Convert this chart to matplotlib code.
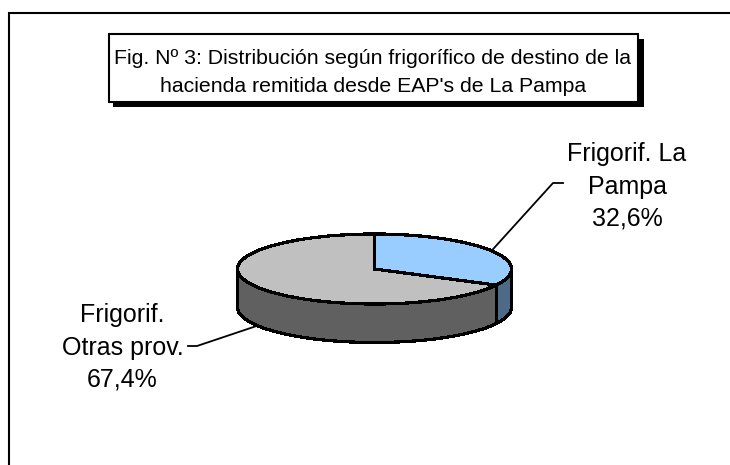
import numpy as np
import matplotlib
matplotlib.use("Agg")
import matplotlib.pyplot as plt
from matplotlib.patches import Rectangle

plt.rcParams['font.family'] = ['Liberation Sans', 'DejaVu Sans']

title_lines = ["Fig. Nº 3: Distribución según frigorífico de destino de la",
               "hacienda remitida desde EAP's de La Pampa"]
labels = ["Frigorif. La\nPampa\n32,6%", "Frigorif.\nOtras prov.\n67,4%"]
shares = [32.6, 67.4]
top_colors = ["#99CCFF", "#C0C0C0"]
wall_colors = ["#4D6A87", "#606060"]

W, H = 730, 465
# pie ellipse in pixels
CX, CY, RX, RY, DEPTH = 374.5, 269.0, 137.0, 35.0, 38.5
EDGE = 1.6


def pie_point(angle, drop=0.0):
    # angle in degrees clockwise from the top of the pie
    a = np.radians(angle)
    return CX + RX * np.sin(a), CY - RY * np.cos(a) + drop


fig = plt.figure(figsize=(W / 100, H / 100), dpi=100, facecolor="white")

# pie axes: unit circle stretched onto the ellipse
pie_ax = fig.add_axes([(CX - RX) / W, 1 - (CY + RY) / H, 2 * RX / W, 2 * RY / H])
pie_ax.pie(shares, colors=top_colors, startangle=90, counterclock=False,
           wedgeprops=dict(edgecolor="black", linewidth=EDGE, zorder=3, antialiased=False))
pie_ax.set_aspect("auto")
pie_ax.set_xlim(-1, 1)
pie_ax.set_ylim(-1, 1)

ax = fig.add_axes([0, 0, 1, 1], zorder=-1)
ax.set_xlim(0, W)
ax.set_ylim(H, 0)
ax.axis("off")

# side walls of the disc, only the front half shows
split = 360 * shares[0] / sum(shares)
wall_ranges = [(split, 90), (split, 270)]
for (a0, a1), col in zip(wall_ranges, wall_colors):
    t = np.linspace(a0, a1, 80)
    x, y = pie_point(t)
    x2, y2 = pie_point(t[::-1], DEPTH)
    ax.fill(np.r_[x, x2], np.r_[y, y2], facecolor=col, edgecolor="black",
            linewidth=EDGE, joinstyle="round", antialiased=False)

over = fig.add_axes([0, 0, 1, 1], zorder=5)
over.set_xlim(0, W)
over.set_ylim(H, 0)
over.axis("off")

# frame, only top and left edges are visible
over.plot([9, 9, W], [H, 13, 13], color="black", lw=1.5, solid_joinstyle="miter")

# title box with drop shadow
over.add_patch(Rectangle((113, 39), 531, 68, facecolor="black", edgecolor="none"))
over.add_patch(Rectangle((109, 34), 529, 68, facecolor="white", edgecolor="black", lw=1.5))
for line, y in zip(title_lines, [59, 86]):
    over.text(373, y, line, ha="center", va="center", fontsize=15.35, color="black")

# labels and leader lines
over.text(627, 186.5, labels[0], ha="center", va="center", fontsize=18, linespacing=1.43)
over.text(122.5, 347.5, labels[1], ha="center", va="center", fontsize=18, linespacing=1.43)
mid0 = split / 2
mid1 = split + (360 - split) / 2
x0, y0 = pie_point(mid0)
x1, y1 = pie_point(mid1, DEPTH)
over.plot([x0, 553, 563], [y0, 183, 183], color="black", lw=1.3)
over.plot([x1, 197, 188], [y1, 346, 346], color="black", lw=1.3)

fig.savefig("out.png", dpi=100, facecolor="white")
